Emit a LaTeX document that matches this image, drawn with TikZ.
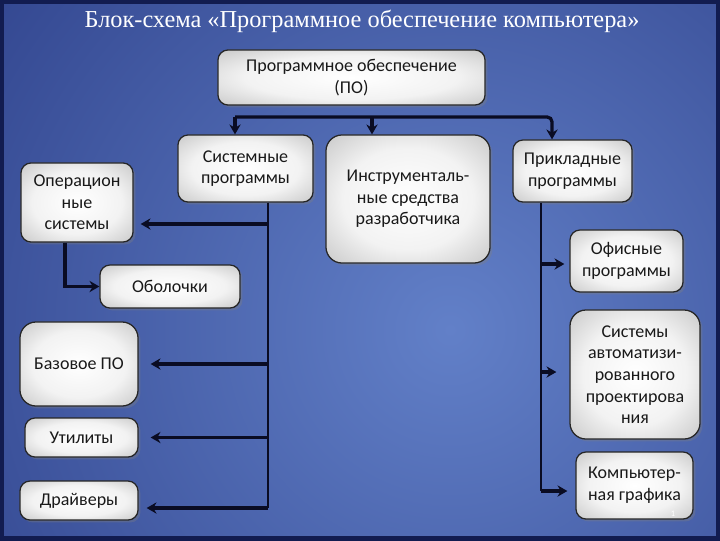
\documentclass[tikz,border=0pt]{standalone}
\usepackage{fontspec}
\setmainfont{Carlito}
\newfontfamily\titlefont{Liberation Serif}
\usepackage{tikz}
\usetikzlibrary{positioning,arrows.meta,shadows}
\definecolor{bgdark}{RGB}{24,38,112}
\definecolor{bglight}{RGB}{98,128,200}
\definecolor{bgframe}{RGB}{18,28,80}
\definecolor{linecol}{RGB}{10,12,35}
\pgfdeclareradialshading{boxshade}{\pgfpoint{0bp}{0bp}}{color(0bp)=(white); color(20bp)=(white!95!black); color(50bp)=(black!36); color(71bp)=(black!46)}

\begin{document}
\begin{tikzpicture}[x=0.025cm, y=-0.025cm,
  block/.style={draw=black!85, line width=0.9pt, rounded corners=0.25cm, align=center, shade, shading=boxshade, drop shadow={opacity=0.35, shadow xshift=0.06cm, shadow yshift=-0.06cm}, font=\fontsize{12.8}{15.4}\selectfont, text=black!90, inner sep=2pt},
  arr/.style={draw=linecol, line width=2.3pt, -{Stealth[length=7pt,width=8pt]}},
  vline/.style={draw=linecol, line width=1.4pt}]
\useasboundingbox (0,0) rectangle (720,540);
\begin{scope}
\clip (0,0) rectangle (720,540);
\shade[inner color=bglight, outer color=bgdark] (450,330) circle (900);
\end{scope}
\draw[bgframe, line width=0.2cm] (0,0) rectangle (720,540);

\node (title) [anchor=base, text=white, font=\titlefont\fontsize{17.3}{19}\selectfont] at (362,27) {Блок-схема «Программное обеспечение компьютера»};

\node (po) [block, minimum width=6.675cm, minimum height=1.375cm] at (351.5,77.5) {Программное обеспечение\\(ПО)};
\node (sys) [block, minimum width=3.375cm, minimum height=1.675cm] at (245.5,168.5) {Системные\\программы};
\node (instr) [block, minimum width=4.1cm, minimum height=3.2cm, rounded corners=0.4cm] at (408,199) {Инструменталь-\\ные средства\\разработчика};
\node (appl) [block, minimum width=2.975cm, minimum height=1.55cm] at (572.5,171) {Прикладные\\программы};
\node (os) [block, minimum width=2.8cm, minimum height=1.975cm] at (77,202.5) {Операцион\\ные\\системы};
\node (shell) [block, minimum width=3.5cm, minimum height=1.075cm] at (170,286.5) {Оболочки};
\node (base) [block, minimum width=2.95cm, minimum height=2.1cm, rounded corners=0.4cm] at (79,364) {Базовое ПО};
\node (util) [block, minimum width=2.825cm, minimum height=0.975cm] at (81.5,437.5) {Утилиты};
\node (drv) [block, minimum width=2.95cm, minimum height=0.975cm] at (79,500.5) {Драйверы};
\node (office) [block, minimum width=2.825cm, minimum height=1.55cm] at (626.5,261) {Офисные\\программы};
\node (cad) [block, minimum width=3.25cm, minimum height=3.225cm, rounded corners=0.4cm] at (635,374.5) {Системы\\автоматизи-\\рованного\\проектирова\\ния};
\node (graph) [block, minimum width=2.925cm, minimum height=1.675cm] at (634.5,485.5) {Компьютер-\\ная графика};
\node (num) [text=white, font=\fontsize{6}{6}\selectfont] at (673,514) {1};

\coordinate (b1) at (235,117);
\coordinate (b2) at (372,117);
\coordinate (b3) at (552,117);
\draw[arr, rounded corners=0.12cm] (b1) -- (b3) -- (b3 |- appl.north);
\draw[arr] (b1) -- (b1 |- sys.north);
\draw[arr] (b2) -- (b2 |- instr.north);

\coordinate (sv) at ([xshift=0.5625cm]sys.south);
\coordinate (osin) at ([shift={(7,21.5)}]os.east);
\coordinate (basein) at ([xshift=0.3cm]base.east);
\coordinate (utilin) at ([xshift=0.3cm]util.east);
\coordinate (drvin) at ([shift={(8,7.5)}]drv.east);
\draw[vline] (sv) -- (sv |- drvin);
\foreach \t in {osin,basein,utilin,drvin}{\draw[arr] (sv |- \t) -- (\t);}

\coordinate (av) at ([xshift=-0.7875cm]appl.south);
\coordinate (officein) at ([shift={(-5,3)}]office.west);
\coordinate (cadin) at ([shift={(-13,-2.5)}]cad.west);
\coordinate (graphin) at ([shift={(-8,5.5)}]graph.west);
\draw[vline] (av) -- (av |- graphin);
\foreach \t in {officein,cadin,graphin}{\draw[arr] (av |- \t) -- (\t);}

\draw[arr] ([xshift=-0.3cm]os.south) |- (shell.west);
\end{tikzpicture}
\end{document}
